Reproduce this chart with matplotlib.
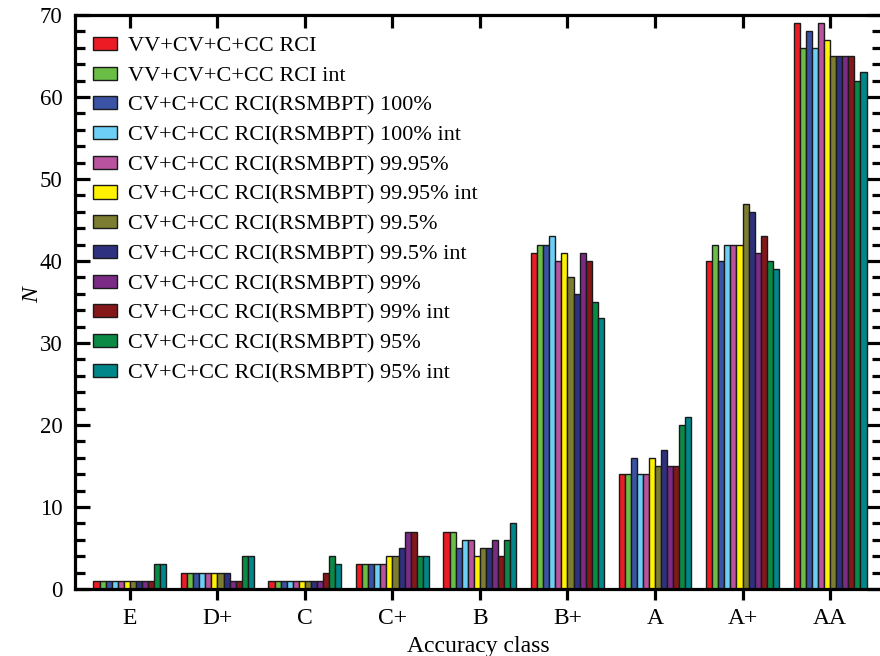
import matplotlib
matplotlib.use("Agg")
import matplotlib.pyplot as plt
import numpy as np
from matplotlib.ticker import MultipleLocator

plt.rcParams['font.family'] = ['Liberation Serif', 'DejaVu Serif']

classes = ["E", "D+", "C", "C+", "B", "B+", "A", "A+", "AA"]

series_names = [
    "VV+CV+C+CC RCI",
    "VV+CV+C+CC RCI int",
    "CV+C+CC RCI(RSMBPT) 100%",
    "CV+C+CC RCI(RSMBPT) 100% int",
    "CV+C+CC RCI(RSMBPT) 99.95%",
    "CV+C+CC RCI(RSMBPT) 99.95% int",
    "CV+C+CC RCI(RSMBPT) 99.5%",
    "CV+C+CC RCI(RSMBPT) 99.5% int",
    "CV+C+CC RCI(RSMBPT) 99%",
    "CV+C+CC RCI(RSMBPT) 99% int",
    "CV+C+CC RCI(RSMBPT) 95%",
    "CV+C+CC RCI(RSMBPT) 95% int",
]

vv_rci         = [1, 2, 1, 3, 7, 41, 14, 40, 69]
vv_rci_int     = [1, 2, 1, 3, 7, 42, 14, 42, 66]
rs_100         = [1, 2, 1, 3, 5, 42, 16, 40, 68]
rs_100_int     = [1, 2, 1, 3, 6, 43, 14, 42, 66]
rs_9995        = [1, 2, 1, 3, 6, 40, 14, 42, 69]
rs_9995_int    = [1, 2, 1, 4, 4, 41, 16, 42, 67]
rs_995         = [1, 2, 1, 4, 5, 38, 15, 47, 65]
rs_995_int     = [1, 2, 1, 5, 5, 36, 17, 46, 65]
rs_99          = [1, 1, 1, 7, 6, 41, 15, 41, 65]
rs_99_int      = [1, 1, 2, 7, 4, 40, 15, 43, 65]
rs_95          = [3, 4, 4, 4, 6, 35, 20, 40, 62]
rs_95_int      = [3, 4, 3, 4, 8, 33, 21, 39, 63]

series = [vv_rci, vv_rci_int, rs_100, rs_100_int, rs_9995, rs_9995_int,
          rs_995, rs_995_int, rs_99, rs_99_int, rs_95, rs_95_int]

colors = ["#ed1c24", "#6abd45", "#3a53a4", "#6dcff6", "#b9529f", "#fff200",
          "#7d7d32", "#2e3180", "#7b2a86", "#861719", "#0b8a46", "#00878a"]

fig = plt.figure(figsize=(8.8, 6.56), dpi=100)
ax = fig.add_axes([75/880, 1 - 589/656, 807/880, (589 - 15)/656])

x = np.arange(len(classes))
n = len(series)
w = 0.0695
for i, (vals, c, name) in enumerate(zip(series, colors, series_names)):
    ax.bar(x + (i - (n - 1) / 2) * w, vals, width=w, color=c,
           edgecolor="#1a1a1a", linewidth=1.0, label=name, zorder=2)

ax.set_xlim(-0.628, 8.594)
ax.set_ylim(0, 70)
ax.set_xticks(x)
ax.set_xticklabels(classes)
ax.yaxis.set_major_locator(MultipleLocator(10))
ax.yaxis.set_minor_locator(MultipleLocator(2))

for s in ax.spines.values():
    s.set_linewidth(2.3)

ax.tick_params(axis='x', which='major', direction='out', length=8, width=2.3,
               top=True, labelsize=17, pad=6)
ax.tick_params(axis='y', which='major', direction='in', length=10.5, width=2.3,
               right=True, labelsize=16.5, pad=9)
ax.tick_params(axis='y', which='minor', direction='in', length=7, width=2.3,
               right=True)

# top ticks point into the plot, bottom ticks point out
for t in ax.xaxis.get_major_ticks():
    t.tick2line.set_marker(matplotlib.markers.TICKDOWN)
    t.tick2line.set_markersize(9.5)

ax.set_xlabel("Accuracy class", fontsize=17, labelpad=5)
ax.set_ylabel("N", fontsize=17, style='italic')
ax.yaxis.set_label_coords(-0.04, 0.512)

ax.legend(loc='upper left', bbox_to_anchor=(18/807, 0.962), frameon=False,
          fontsize=16, handlelength=1.08, handleheight=0.54,
          handletextpad=0.5, labelspacing=0.46, borderaxespad=0.0,
          borderpad=0.0)

fig.savefig("out.png", dpi=100)
